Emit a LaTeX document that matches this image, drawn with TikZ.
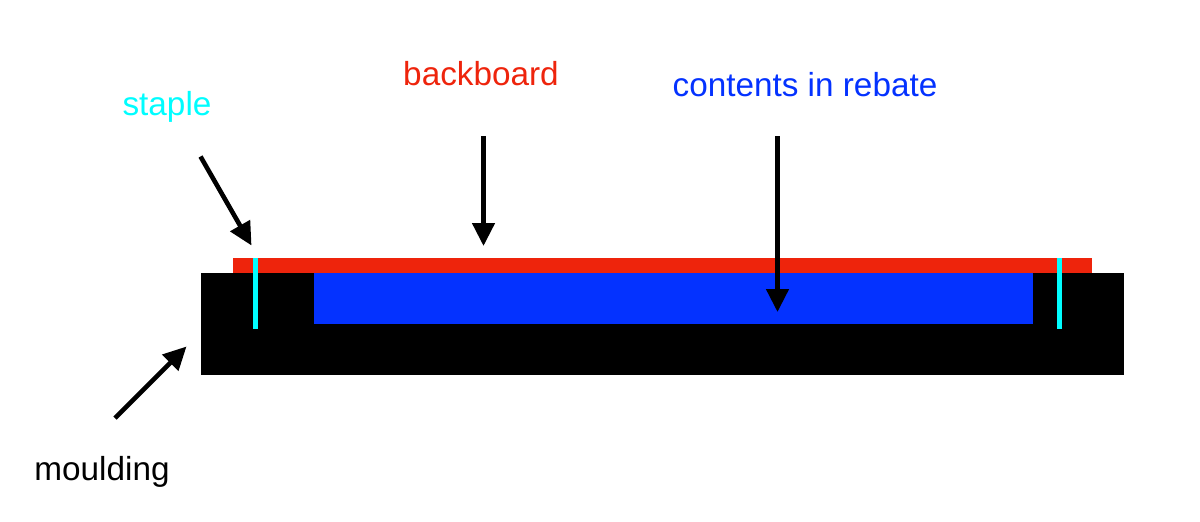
\documentclass[tikz,border=0pt]{standalone}
\usepackage{fontspec}
\setmainfont{Liberation Sans}
\usetikzlibrary{arrows.meta}
\definecolor{boardred}{RGB}{238,36,12}
\definecolor{fillblue}{RGB}{4,50,255}
\definecolor{staplecyan}{RGB}{0,253,255}
\tikzset{
	label/.style={font=\fontsize{33.3pt}{38pt}\selectfont, inner sep=0pt, anchor=base},
	pointer/.style={-{Triangle[length=23pt,width=22pt]}, line width=4.6pt, black},
}
\begin{document}
\begin{tikzpicture}[x=1pt,y=-1pt]
	\useasboundingbox (0,0) rectangle (1200,522);
	% frame section
	\fill[black] (201,273) rectangle (1124,375);
	\fill[boardred] (233,258) rectangle (1092,273);
	\fill[fillblue] (314,273) rectangle (1033,324);
	\fill[staplecyan] (253.4,258) rectangle (258,329);
	\fill[staplecyan] (1057,258) rectangle (1061.5,329);

	\node[label, text=staplecyan] (staple) at (167,115) {staple};
	\node[label, text=boardred] (backboard) at (481,85.5) {backboard};
	\node[label, text=fillblue] (contents) at (805,96.5) {contents in rebate};
	\node[label, text=black] (moulding) at (102,480) {moulding};

	\coordinate (stapleA) at (200.5,156.5);
	\coordinate (stapleB) at (251.5,245.5);
	\coordinate (boardA) at (483.5,136);
	\coordinate (boardB) at (483.5,246);
	\coordinate (contentsA) at (777.5,136);
	\coordinate (contentsB) at (777.5,312);
	\coordinate (mouldA) at (115,418);
	\coordinate (mouldB) at (186.5,346.5);

	\draw[pointer] (stapleA) -- (stapleB);
	\draw[pointer] (boardA) -- (boardB);
	\draw[pointer] (contentsA) -- (contentsB);
	\draw[pointer] (mouldA) -- (mouldB);
\end{tikzpicture}
\end{document}
